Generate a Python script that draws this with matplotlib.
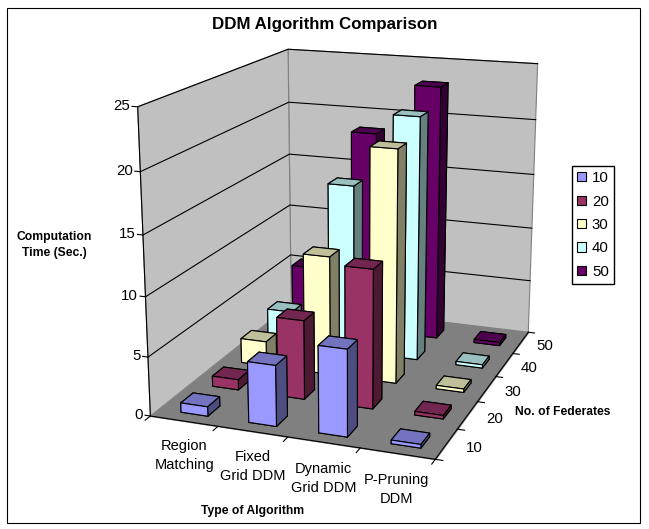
import numpy as np
import matplotlib
matplotlib.use('Agg')
import matplotlib.pyplot as plt
from matplotlib.patches import Patch, Rectangle
from mpl_toolkits.mplot3d import proj3d
from mpl_toolkits.mplot3d.art3d import Poly3DCollection

plt.rcParams['font.family'] = ['Liberation Sans', 'DejaVu Sans']

categories = ['Region\nMatching', 'Fixed\nGrid DDM', 'Dynamic\nGrid DDM', 'P-Pruning\nDDM']
federates = ['10', '20', '30', '40', '50']
z_ticks = [0, 5, 10, 15, 20, 25]
times_10 = [0.8, 5.1, 7.2, 0.3]
times_20 = [0.9, 6.8, 11.8, 0.3]
times_30 = [2.2, 10.5, 20.2, 0.3]
times_40 = [3.0, 15.2, 21.7, 0.3]
times_50 = [5.4, 18.6, 23.2, 0.3]
front_colors = ['#9999FF', '#993366', '#FFFFCC', '#CCFFFF', '#660066']
top_colors = ['#7373BF', '#732650', '#BFBF99', '#99BFBF', '#4D004D']
side_colors = ['#4D4D80', '#4D1A33', '#808066', '#668080', '#330033']

W, H = 649, 529
fig = plt.figure(figsize=(W / 100, H / 100), dpi=100)
ax = fig.add_axes([0, 0, 1, 1], projection='3d')
ax.set_xlim(0, 4, view_margin=0)
ax.set_ylim(0, 5, view_margin=0)
ax.set_zlim(0, 25, view_margin=0)

# camera found by fitting the box corners to the picture
ax.view_init(15.98, -69.96, 0)
ax.set_proj_type('persp', focal_length=0.516)
ax.set_box_aspect((0.947, 1.177, 1), zoom=1)
s, tx, ty = 2840.5, 353.4, 297.7
vl = ax.viewLim
ax.set_position([(tx + s * vl.x0) / W, (ty + s * vl.y0) / H, s * vl.width / W, s * vl.height / H])
ax.set_xticks([])
ax.set_yticks([])
ax.set_zticks([])
ax.set_axis_off()
ax.computed_zorder = False


def label3d(x, y, z, txt, ha='center', **kw):
    # project by hand so the label is a plain 2D text at its real place
    u, v, _ = proj3d.proj_transform(x, y, z, ax.get_proj())
    ax.text2D(u, v, txt, transform=ax.transData, ha=ha, va='center', **kw)


walls = [[(0, 0, 0), (0, 5, 0), (0, 5, 25), (0, 0, 25)], [(0, 5, 0), (4, 5, 0), (4, 5, 25), (0, 5, 25)]]
ax.add_collection3d(Poly3DCollection(walls, facecolors='#C0C0C0', edgecolors='#808080', linewidths=0.8, zorder=1))
floor = [[(0, 0, 0), (4, 0, 0), (4, 5, 0), (0, 5, 0)]]
ax.add_collection3d(Poly3DCollection(floor, facecolors='#808080', edgecolors='#808080', linewidths=0.8, zorder=2))
for z in z_ticks[1:]:
    ax.plot([0, 0, 4], [0, 5, 5], [z, z, z], color='black', lw=0.8, zorder=3)
for z in z_ticks:
    ax.plot([-0.08, 0], [0, 0], [z, z], color='black', lw=0.8, zorder=4)
    label3d(-0.11, 0, z, str(z), ha='right', fontsize=10.8)
ax.plot([0, 0], [0, 0], [0, 25], color='black', lw=0.8, zorder=4)
ax.plot([0, 4, 4], [0, 0, 5], [0, 0, 0], color='black', lw=0.8, zorder=4)
for i in range(5):
    ax.plot([i, i], [0, -0.15], [0, 0], color='black', lw=0.8, zorder=4)
for j in range(6):
    ax.plot([4, 4.1], [j, j], [0, 0], color='black', lw=0.8, zorder=4)
for i, c in enumerate(categories):
    label3d(i + 0.49, 0, -3, c, fontsize=10.5, linespacing=1.45)
for j, c in enumerate(federates):
    label3d(4.37, j + 0.5, 0, c, fontsize=10.8)

series = [times_10, times_20, times_30, times_40, times_50]
bw, bd = 0.4, 0.38
order = 10
# back row first, left to right, so nearer bars cover farther ones
for j in range(4, -1, -1):
    for i in range(4):
        cols = [side_colors[j], top_colors[j], front_colors[j], side_colors[j], side_colors[j], side_colors[j]]
        ax.bar3d(i + 0.33, j + 0.26, 0, bw, bd, series[j][i], color=cols, shade=False,
                 edgecolor='black', linewidth=0.8, zorder=order)
        order += 1

fig.text(325 / W, 1 - 24 / H, 'DDM Algorithm Comparison', ha='center', va='center', fontsize=12.2, fontweight='bold')
fig.text(54 / W, 1 - 245 / H, 'Computation\nTime (Sec.)', ha='center', va='center', fontsize=8.7, fontweight='bold', linespacing=1.5)
fig.text(563 / W, 1 - 412 / H, 'No. of Federates', ha='center', va='center', fontsize=8.7, fontweight='bold')
fig.text(253 / W, 1 - 511 / H, 'Type of Algorithm', ha='center', va='center', fontsize=8.7, fontweight='bold')
handles = [Patch(facecolor=c, edgecolor='black', linewidth=0.8) for c in front_colors]
fig.legend(handles, federates, loc='center', bbox_to_anchor=(593 / W, 1 - 225 / H), fontsize=10.8, frameon=True,
           fancybox=False, edgecolor='black', framealpha=1, handlelength=0.58, handleheight=0.58,
           handletextpad=0.4, labelspacing=0.63, borderpad=0.33, borderaxespad=0)
fig.add_artist(Rectangle((7 / W, 1 - 523 / H), 633 / W, 515 / H, transform=fig.transFigure, fill=False, edgecolor='black', lw=0.8))
fig.savefig('out.png', dpi=100)
